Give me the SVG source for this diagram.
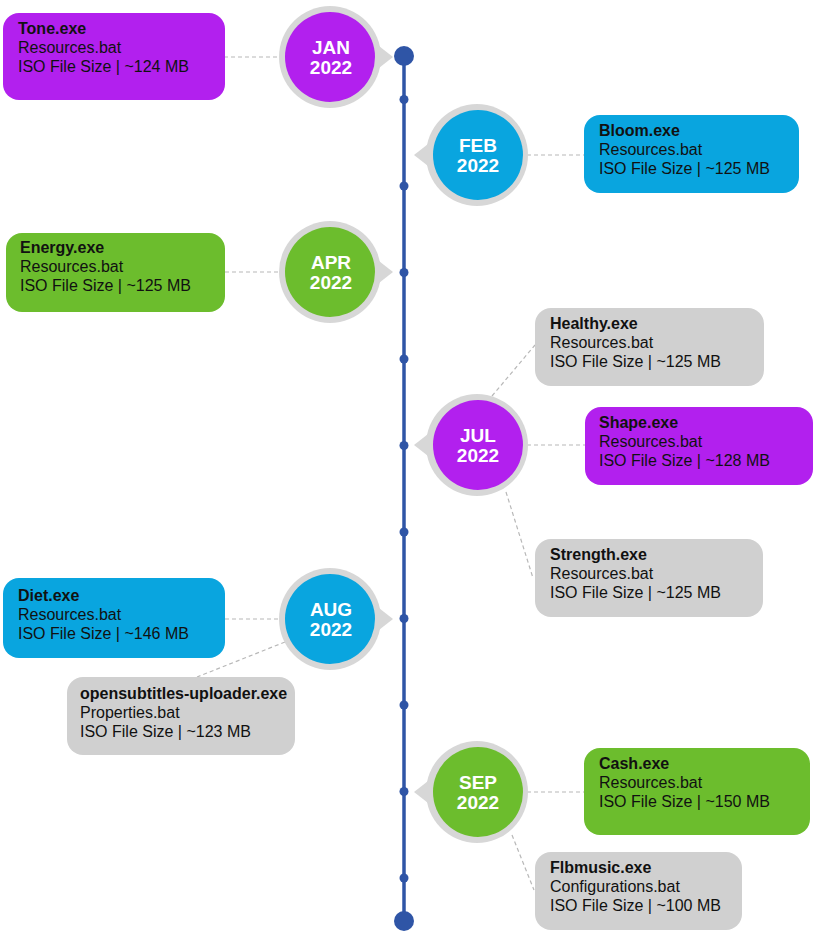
<svg xmlns="http://www.w3.org/2000/svg" width="815" height="935" viewBox="0 0 815 935">
<defs>
<style>
.bg{fill:#ffffff}
.conn{stroke:#b8b8b8;stroke-width:1.2;stroke-dasharray:4 3;fill:none}
.tl{stroke:#2f55a6;stroke-width:3.5}
.dot{fill:#2f55a6}
.ring{fill:#d7d7d7}
.purple{fill:#b220ee}
.blue{fill:#09a5df}
.green{fill:#6cbd2d}
.gray{fill:#d0d0d0}
.t{font-family:"Liberation Sans",Arial,sans-serif;font-size:16px;fill:#111111}
.tb{font-weight:bold}
.m{font-family:"Liberation Sans",Arial,sans-serif;font-size:19px;font-weight:bold;fill:#ffffff;text-anchor:middle}
</style>
</defs>
<rect class="bg" x="0" y="0" width="815" height="935"/>

<g id="connectors">
<line class="conn" x1="224" y1="57" x2="280" y2="57"/>
<line class="conn" x1="527" y1="155" x2="585" y2="155"/>
<line class="conn" x1="225" y1="272" x2="280" y2="272"/>
<line class="conn" x1="492" y1="396" x2="535" y2="345"/>
<line class="conn" x1="527" y1="445" x2="586" y2="445"/>
<line class="conn" x1="506" y1="492" x2="533" y2="578"/>
<line class="conn" x1="225" y1="619" x2="280" y2="619"/>
<line class="conn" x1="285" y1="642" x2="197" y2="677"/>
<line class="conn" x1="527" y1="792" x2="585" y2="792"/>
<line class="conn" x1="512" y1="835" x2="534" y2="890"/>
</g>

<g id="timeline">
<line class="tl" x1="404" y1="56" x2="404" y2="921"/>
<circle class="dot" cx="404" cy="56" r="10"/>
<circle class="dot" cx="404" cy="921" r="10"/>
<circle class="dot" cx="404" cy="99.5" r="4.5"/>
<circle class="dot" cx="404" cy="186" r="4.5"/>
<circle class="dot" cx="404" cy="272.5" r="4.5"/>
<circle class="dot" cx="404" cy="359" r="4.5"/>
<circle class="dot" cx="404" cy="445.5" r="4.5"/>
<circle class="dot" cx="404" cy="532" r="4.5"/>
<circle class="dot" cx="404" cy="618.5" r="4.5"/>
<circle class="dot" cx="404" cy="705" r="4.5"/>
<circle class="dot" cx="404" cy="791.5" r="4.5"/>
<circle class="dot" cx="404" cy="878" r="4.5"/>
</g>

<g id="m-jan">
<circle class="ring" cx="330" cy="57" r="51"/>
<polygon class="ring" points="370,39 393,57 370,75"/>
<circle class="purple" cx="330" cy="57" r="45"/>
<text class="m" x="331" y="54">JAN</text>
<text class="m" x="331" y="74">2022</text>
</g>
<g id="m-feb">
<circle class="ring" cx="477" cy="155" r="51"/>
<polygon class="ring" points="437,137 414,155 437,173"/>
<circle class="blue" cx="478" cy="155" r="45"/>
<text class="m" x="478" y="152">FEB</text>
<text class="m" x="478" y="172">2022</text>
</g>
<g id="m-apr">
<circle class="ring" cx="330" cy="272" r="51"/>
<polygon class="ring" points="370,254 393,272 370,290"/>
<circle class="green" cx="330" cy="272" r="45"/>
<text class="m" x="331" y="269">APR</text>
<text class="m" x="331" y="289">2022</text>
</g>
<g id="m-jul">
<circle class="ring" cx="477" cy="445" r="51"/>
<polygon class="ring" points="437,427 414,445 437,463"/>
<circle class="purple" cx="478" cy="445" r="45"/>
<text class="m" x="478" y="442">JUL</text>
<text class="m" x="478" y="462">2022</text>
</g>
<g id="m-aug">
<circle class="ring" cx="330" cy="619" r="51"/>
<polygon class="ring" points="370,601 393,619 370,637"/>
<circle class="blue" cx="330" cy="619" r="45"/>
<text class="m" x="331" y="616">AUG</text>
<text class="m" x="331" y="636">2022</text>
</g>
<g id="m-sep">
<circle class="ring" cx="477" cy="792" r="51"/>
<polygon class="ring" points="437,774 414,792 437,810"/>
<circle class="green" cx="478" cy="792" r="45"/>
<text class="m" x="478" y="789">SEP</text>
<text class="m" x="478" y="809">2022</text>
</g>

<g id="n-tone">
<rect class="purple" x="3" y="13" width="222" height="87" rx="16"/>
<text class="t tb" x="18" y="34">Tone.exe</text>
<text class="t" x="18" y="53">Resources.bat</text>
<text class="t" x="18" y="72">ISO File Size | ~124 MB</text>
</g>
<g id="n-bloom">
<rect class="blue" x="584" y="115" width="215" height="78" rx="16"/>
<text class="t tb" x="599" y="135.5">Bloom.exe</text>
<text class="t" x="599" y="154.5">Resources.bat</text>
<text class="t" x="599" y="173.5">ISO File Size | ~125 MB</text>
</g>
<g id="n-energy">
<rect class="green" x="6" y="233" width="219" height="79" rx="16"/>
<text class="t tb" x="20" y="253">Energy.exe</text>
<text class="t" x="20" y="272">Resources.bat</text>
<text class="t" x="20" y="291">ISO File Size | ~125 MB</text>
</g>
<g id="n-healthy">
<rect class="gray" x="535" y="308" width="229" height="78" rx="16"/>
<text class="t tb" x="550" y="328.5">Healthy.exe</text>
<text class="t" x="550" y="347.5">Resources.bat</text>
<text class="t" x="550" y="366.5">ISO File Size | ~125 MB</text>
</g>
<g id="n-shape">
<rect class="purple" x="585" y="407" width="228" height="78" rx="16"/>
<text class="t tb" x="599" y="427.5">Shape.exe</text>
<text class="t" x="599" y="446.5">Resources.bat</text>
<text class="t" x="599" y="465.5">ISO File Size | ~128 MB</text>
</g>
<g id="n-strength">
<rect class="gray" x="535" y="539" width="228" height="78" rx="16"/>
<text class="t tb" x="550" y="559.5">Strength.exe</text>
<text class="t" x="550" y="578.5">Resources.bat</text>
<text class="t" x="550" y="597.5">ISO File Size | ~125 MB</text>
</g>
<g id="n-diet">
<rect class="blue" x="3" y="578" width="222" height="80" rx="16"/>
<text class="t tb" x="18" y="600.5">Diet.exe</text>
<text class="t" x="18" y="619.5">Resources.bat</text>
<text class="t" x="18" y="638.5">ISO File Size | ~146 MB</text>
</g>
<g id="n-opensubtitles">
<rect class="gray" x="67" y="677" width="228" height="78" rx="16"/>
<text class="t tb" x="80" y="698.5">opensubtitles-uploader.exe</text>
<text class="t" x="80" y="717.5">Properties.bat</text>
<text class="t" x="80" y="736.5">ISO File Size | ~123 MB</text>
</g>
<g id="n-cash">
<rect class="green" x="584" y="748" width="226" height="87" rx="16"/>
<text class="t tb" x="599" y="768.5">Cash.exe</text>
<text class="t" x="599" y="787.5">Resources.bat</text>
<text class="t" x="599" y="806.5">ISO File Size | ~150 MB</text>
</g>
<g id="n-flbmusic">
<rect class="gray" x="535" y="852" width="207" height="78" rx="16"/>
<text class="t tb" x="550" y="872.5">Flbmusic.exe</text>
<text class="t" x="550" y="891.5">Configurations.bat</text>
<text class="t" x="550" y="910.5">ISO File Size | ~100 MB</text>
</g>
</svg>
